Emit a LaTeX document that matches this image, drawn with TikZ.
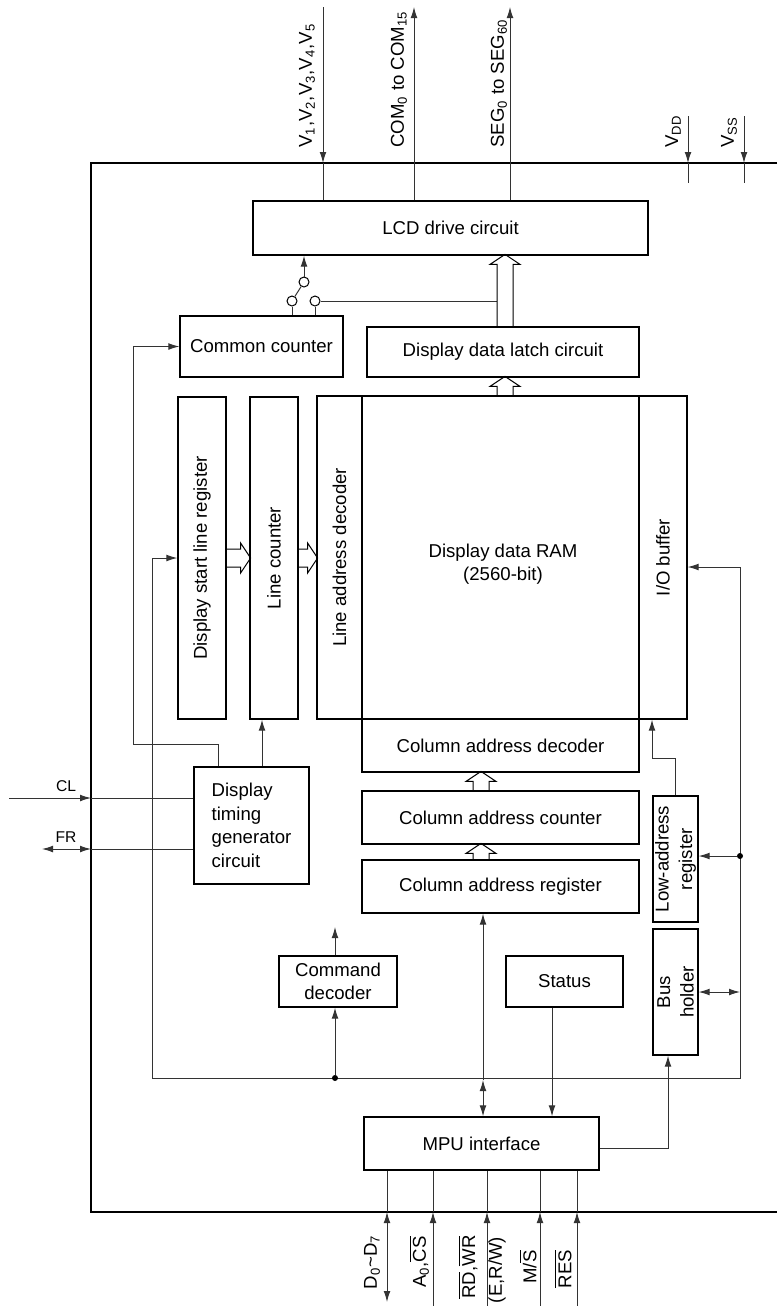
\documentclass[tikz,border=0pt]{standalone}
\usepackage{fontspec}
\setmainfont{Liberation Sans}
\usetikzlibrary{arrows.meta}
\newcommand\boxfont{\fontsize{9.3}{11.8}\selectfont}
\newcommand\pinfont{\fontsize{7.8}{9}\selectfont}
\tikzset{
        >={Latex[length=5.5pt,width=3.4pt]},
        blk/.style={draw=black, rectangle, line width=0.6pt, inner sep=0pt, font=\boxfont, align=center},
        vblk/.style={blk, rotate=90},
        wire/.style={draw=black!80, line width=0.5pt},
        fat/.style={draw=black, line width=0.5pt},
        swc/.style={circle, draw=black, line width=0.5pt, inner sep=0pt, minimum size=5pt},
        dot/.style={circle, fill=black, inner sep=0pt, minimum size=3pt},
        pinlab/.style={font=\boxfont, inner sep=0pt},
        smalllab/.style={font=\pinfont, inner sep=0pt},
        pics/fatup/.style={code={\draw[fat] (-8,0) -- (-8,-#1+10) -- (-15,-#1+10) -- (0,-#1) -- (15,-#1+10) -- (8,-#1+10) -- (8,0);}},
        pics/fatright/.style={code={\draw[fat] (0,-9) -- (#1-10,-9) -- (#1-10,-15) -- (#1,0) -- (#1-10,15) -- (#1-10,9) -- (0,9);}}
          }

\begin{document}
\begin{tikzpicture}[x=0.5pt, y=-0.5pt]
            \useasboundingbox (0,0) rectangle (777,1306);
            % chip outline
            \coordinate (otl) at (91,163);
            \coordinate (obl) at (91,1212);
            \draw[line width=0.65pt] (777,163) -- (otl) -- (obl) -- (777,1212);

            % blocks
            \node[blk, minimum width=197.5pt, minimum height=27pt] (lcd) at (450.5,228) {LCD drive circuit};
            \node[blk, minimum width=81.5pt, minimum height=30.5pt] (comcnt) at (261.5,346.5) {Common counter};
            \node[blk, minimum width=136pt, minimum height=25pt] (latch) at (503,352) {Display data latch circuit};
            \node[vblk, minimum width=161pt, minimum height=24pt] (dslr) at (202,558) {Display start line register};
            \node[vblk, minimum width=161pt, minimum height=24pt] (lcnt) at (274,558) {Line counter};
            \node[vblk, minimum width=161.5pt, minimum height=22.5pt] (lad) at (339.5,557.5) {Line address decoder};
            \node[blk, minimum width=138.5pt, minimum height=161.5pt] (ram) at (500.5,557.5) {};
            \node[pinlab, align=center] (ramtxt) at (503,564) {Display data RAM\\(2560-bit)};
            \node[vblk, minimum width=161.5pt, minimum height=24pt] (iobuf) at (663,557.5) {I/O buffer};
            \node[blk, minimum width=138.5pt, minimum height=26.5pt] (cadec) at (500.5,745.5) {Column address decoder};
            \node[blk, minimum width=138.5pt, minimum height=26.5pt] (cacnt) at (500.5,817.5) {Column address counter};
            \node[blk, minimum width=138.5pt, minimum height=26.5pt] (careg) at (500.5,886.5) {Column address register};
            \node[blk, minimum width=57.5pt, minimum height=58.5pt, align=left] (dtg) at (251.5,825.5) {Display\\timing\\generator\\circuit};
            \node[blk, minimum width=59pt, minimum height=25.5pt] (cmddec) at (338,981.5) {Command\\decoder};
            \node[blk, minimum width=58.5pt, minimum height=25.5pt] (status) at (564.5,981.5) {Status};
            \node[blk, minimum width=117.5pt, minimum height=26.5pt] (mpu) at (481.5,1143.5) {MPU interface};
            \node[vblk, minimum width=63pt, minimum height=22.5pt] (lar) at (675.5,859) {Low-address\\register};
            \node[vblk, minimum width=63pt, minimum height=22.5pt] (bush) at (675.5,992) {Bus\\holder};

            % top pins
            \coordinate (vin) at (323,7);
            \coordinate (vpin) at (323,163);
            \draw[wire,->] (vin) -- (vpin);
            \draw[wire] (vpin) -- (vpin |- lcd.north);
            \coordinate (comout) at (414,7);
            \draw[wire,->] (comout |- lcd.north) -- (comout);
            \coordinate (segout) at (510,7);
            \draw[wire,->] (segout |- lcd.north) -- (segout);
            \coordinate (vddin) at (688,116);
            \coordinate (vddpin) at (688,163);
            \coordinate (vddend) at (688,183);
            \draw[wire,->] (vddin) -- (vddpin);
            \draw[wire] (vddpin) -- (vddend);
            \coordinate (vssin) at (744,116);
            \coordinate (vsspin) at (744,163);
            \coordinate (vssend) at (744,183);
            \draw[wire,->] (vssin) -- (vsspin);
            \draw[wire] (vsspin) -- (vssend);
            \node[pinlab, rotate=90, anchor=west] (vlab) at (307,148) {V\textsubscript{1},V\textsubscript{2},V\textsubscript{3},V\textsubscript{4},V\textsubscript{5}};
            \node[pinlab, rotate=90, anchor=west] (comlab) at (399,148) {COM\textsubscript{0} to COM\textsubscript{15}};
            \node[pinlab, rotate=90, anchor=west] (seglab) at (499,148) {SEG\textsubscript{0} to SEG\textsubscript{60}};
            \node[pinlab, rotate=90, anchor=west] (vddlab) at (673,148) {V\textsubscript{DD}};
            \node[pinlab, rotate=90, anchor=west] (vsslab) at (729,148) {V\textsubscript{SS}};

            % switch
            \node[swc] (swa) at (304,282) {};
            \node[swc] (swb) at (292,301) {};
            \node[swc] (swd) at (315,301) {};
            \coordinate (shaft) at (497,301);
            \draw[wire,->] (swa) -- (swa |- lcd.south);
            \draw[wire] (swb) -- (swa);
            \draw[wire] (swb) -- (swb |- comcnt.north);
            \draw[wire] (swd) -- (swd |- comcnt.north);
            \draw[wire] (swd) -- (shaft);

            % wide buses
            \pic at ([xshift=1pt]latch.north) {fatup=72};
            \pic at ([xshift=2.25pt]ram.north) {fatup=19};
            \pic at ([xshift=-9.75pt]cacnt.north) {fatup=19};
            \pic at ([xshift=-9.75pt]careg.north) {fatup=16};
            \pic at (dslr.south) {fatright=24};
            \pic at (lcnt.south) {fatright=19};

            % timing
            \coordinate (ccl) at (133,744);
            \draw[wire,->] ([xshift=-16.75pt]dtg.north) |- (ccl) |- (comcnt);
            \draw[wire,->] ([xshift=5.25pt]dtg.north) -- ([xshift=5.25pt]dtg.north |- lcnt.west);
            \coordinate (clin) at (9,798);
            \coordinate (clpin) at (91,798);
            \draw[wire,->] (clin) -- (clpin);
            \draw[wire] (clpin) -- (clpin -| dtg.west);
            \coordinate (frout) at (42,849);
            \coordinate (frpin) at (91,849);
            \draw[wire,<->] (frout) -- (frpin);
            \draw[wire] (frpin) -- (frpin -| dtg.west);
            \node[smalllab] (cllab) at (66,786) {CL};
            \node[smalllab] (frlab) at (66,837) {FR};

            % internal bus
            \coordinate (busl) at (152,1078);
            \coordinate (busr) at (740,1078);
            \coordinate (busio) at (740,567);
            \draw[wire,<->] (dslr) -| (busl) -- (busr) |- (busio -| iobuf.south);
            \node[dot] (dotm) at (335,1078) {};
            \node[dot] (dotr) at (740,856) {};
            \coordinate (cmdout) at (335,927);
            \draw[wire,->] (dotm) -- (dotm |- cmddec.south);
            \draw[wire,->] (cmdout |- cmddec.north) -- (cmdout);
            \draw[wire,->] (dotr) -- (dotr -| lar.south);
            \draw[wire,<->] (bush.south) -- (bush.south -| busr);
            \coordinate (lark) at (652,758);
            \draw[wire,->] (lar.east) |- (lark) -- (lark |- iobuf.west);
            \draw[wire,->] ([yshift=-2.25pt]mpu.east) -| ([xshift=-3.75pt]bush.west);
            \draw[wire,->] ([xshift=-6.25pt]status.south) -- ([xshift=-6.25pt]status.south |- mpu.north);
            \coordinate (dbx) at (483,1080);
            \draw[wire,->] (dbx) -- (dbx |- careg.south);
            \draw[wire,<->] (dbx) -- (dbx |- mpu.north);

            % bottom pins
            \coordinate (pd) at (387,1302);
            \draw[wire,<->] (pd) -- (pd |- obl);
            \draw[wire] (pd |- obl) -- (pd |- mpu.south);
            \foreach \px/\nm in {433/pa, 487/pr, 540/pm, 577/ps} {
              \coordinate (\nm) at (\px,1306);
              \draw[wire,->] (\nm) -- (\nm |- obl);
              \draw[wire] (\nm |- obl) -- (\nm |- mpu.south);
            }
            \node[pinlab, rotate=90] (dlab) at (372,1262) {D\textsubscript{0}\textasciitilde D\textsubscript{7}};
            \node[pinlab, rotate=90] (alab) at (419,1262) {A\textsubscript{0},$\overline{\mbox{CS}}$};
            \node[pinlab, rotate=90] (rdlab) at (468,1267) {$\overline{\mbox{RD}}$,$\overline{\mbox{WR}}$};
            \node[pinlab, rotate=90] (elab) at (497,1270) {(E,R/W)};
            \node[pinlab, rotate=90] (mslab) at (528,1267) {M/$\overline{\mbox{S}}$};
            \node[pinlab, rotate=90] (reslab) at (563,1269) {$\overline{\mbox{RES}}$};
          \end{tikzpicture}
\end{document}
